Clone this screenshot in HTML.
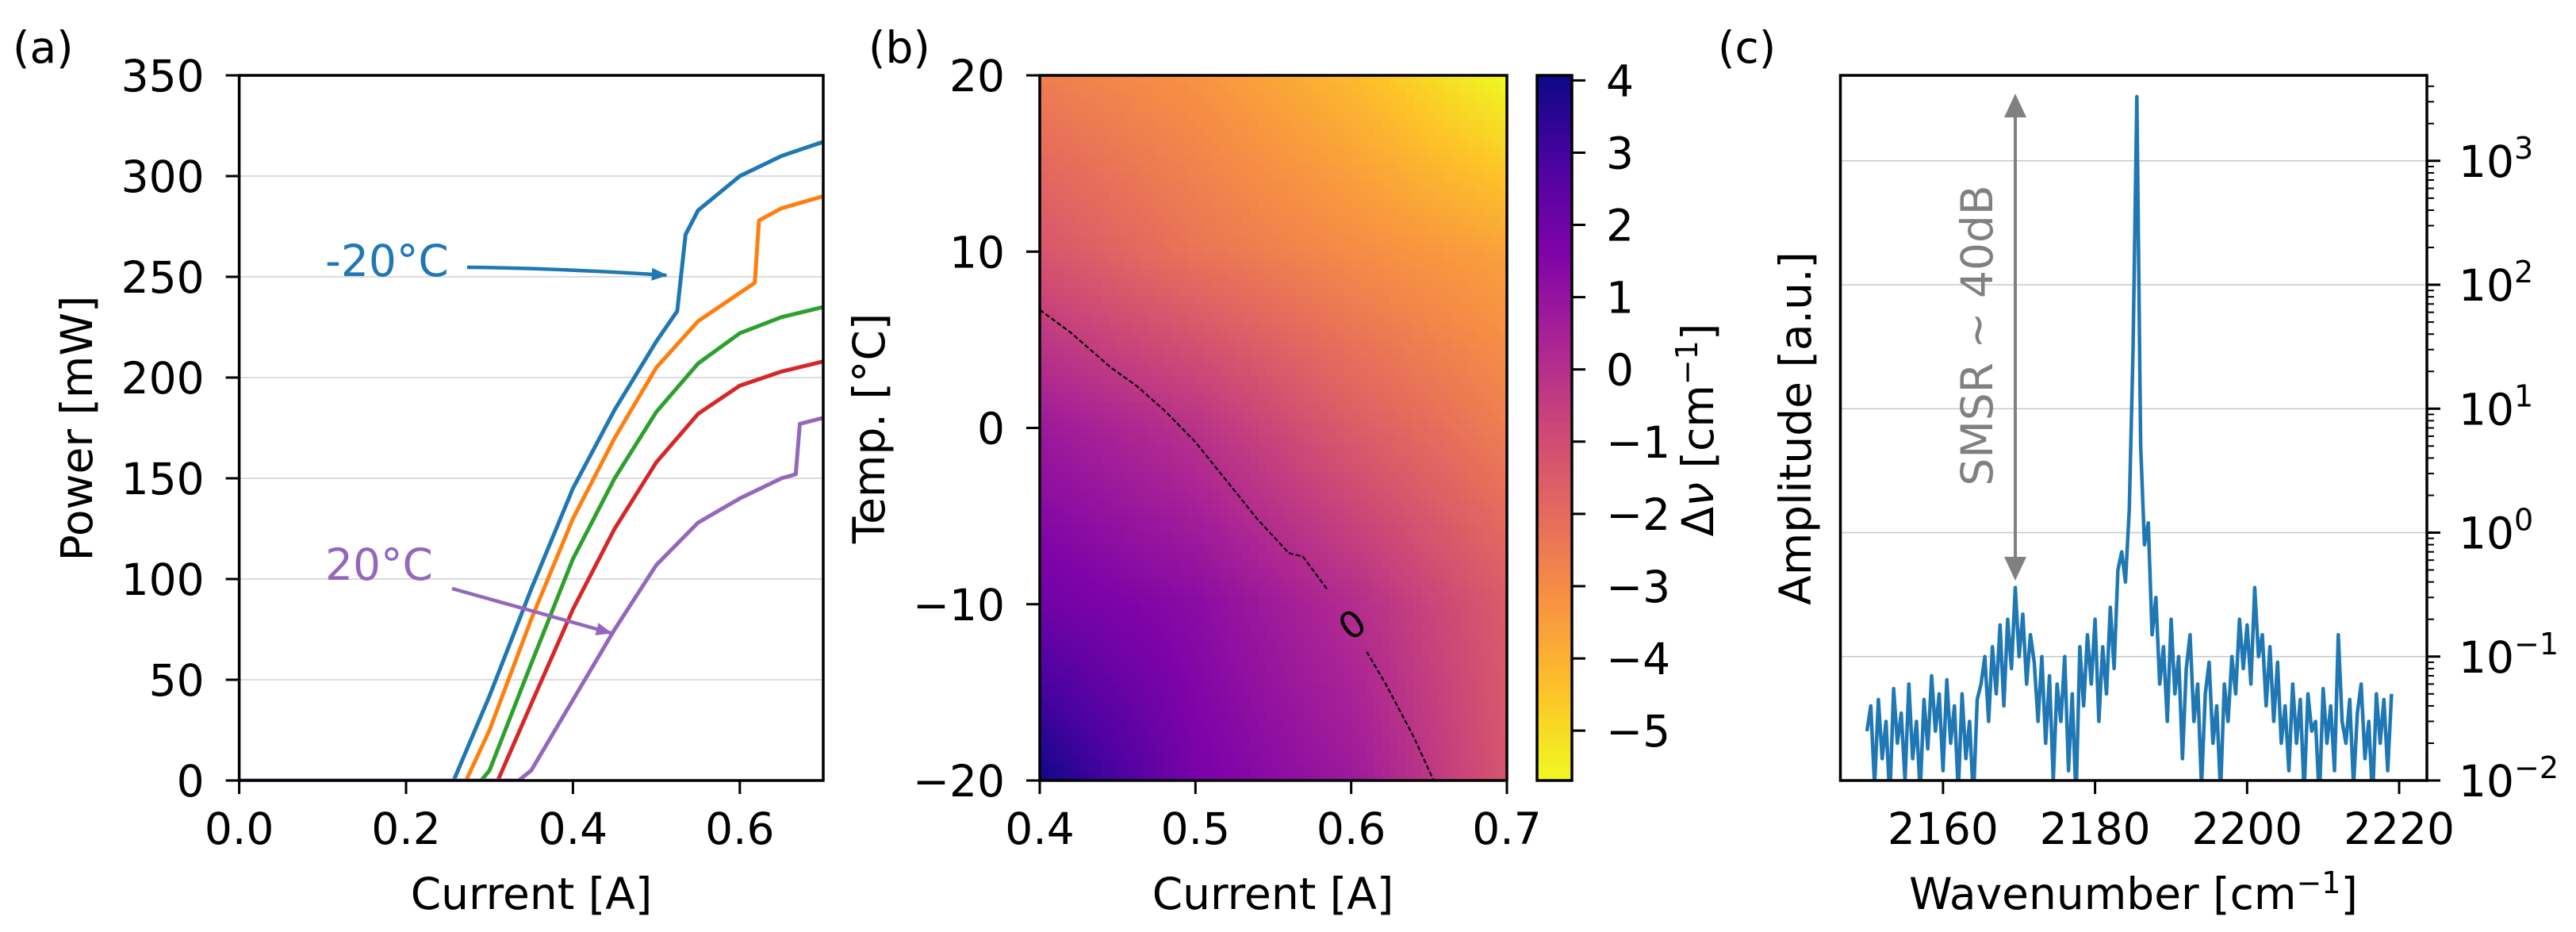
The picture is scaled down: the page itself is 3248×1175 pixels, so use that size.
<!DOCTYPE html>
<html><head><meta charset="utf-8"><style>
html,body{margin:0;padding:0;background:#fff;}
svg{display:block;font-family:"DejaVu Sans","Liberation Sans",sans-serif;}
</style></head><body>
<svg id="fig" width="3248" height="1175" viewBox="0 0 3248 1175" xmlns="http://www.w3.org/2000/svg">
<defs>
<clipPath id="clipA"><rect x="301.6" y="95" width="736.4" height="889"/></clipPath>
<clipPath id="clipC"><rect x="2320.5" y="95" width="739.5" height="889"/></clipPath>
<marker id="arrB" viewBox="0 0 10 10" refX="9" refY="5" markerWidth="4.5" markerHeight="4.5" orient="auto"><path d="M0,1 L10,5 L0,9 Z" fill="#1f77b4"/></marker>
<marker id="arrP" viewBox="0 0 10 10" refX="9" refY="5" markerWidth="4.5" markerHeight="4.5" orient="auto"><path d="M0,1 L10,5 L0,9 Z" fill="#9467bd"/></marker>
</defs>
<g id="pa"></g>
<g id="pb"></g>
<g id="pc"></g>
</svg>
<script>
// ---------- Panel (a) data ----------
const aCurrent_blue   = [0, 0.257, 0.3, 0.35, 0.4, 0.45, 0.5, 0.525, 0.535, 0.55, 0.6, 0.65, 0.7];
const aPower_blue     = [0, 0, 42, 95, 145, 184, 218, 233, 271, 283, 300, 310, 317];
const aCurrent_orange = [0, 0.272, 0.3, 0.35, 0.4, 0.45, 0.5, 0.55, 0.6, 0.618, 0.623, 0.65, 0.7];
const aPower_orange   = [0, 0, 25, 80, 130, 170, 205, 228, 242, 247, 278, 284, 290];
const aCurrent_green  = [0, 0.29, 0.3, 0.35, 0.4, 0.45, 0.5, 0.55, 0.6, 0.65, 0.7];
const aPower_green    = [0, 0, 5, 58, 110, 150, 183, 207, 222, 230, 235];
const aCurrent_red    = [0, 0.31, 0.35, 0.4, 0.45, 0.5, 0.55, 0.6, 0.65, 0.7];
const aPower_red      = [0, 0, 38, 85, 125, 158, 182, 196, 203, 208];
const aCurrent_purple = [0, 0.335, 0.35, 0.4, 0.45, 0.5, 0.55, 0.6, 0.65, 0.667, 0.672, 0.7];
const aPower_purple   = [0, 0, 5, 40, 75, 107, 128, 140, 150, 152, 177, 180];
const aXTicks = [0, 0.2, 0.4, 0.6];
const aXTickLabels = ["0.0", "0.2", "0.4", "0.6"];
const aYTicks = [0, 50, 100, 150, 200, 250, 300, 350];

// ---------- Panel (b) data ----------
const bCurrentGrid = [0.4, 0.5, 0.6, 0.7];
const bTempGrid = [-20, -10, 0, 10, 20];
const bShift_Tm20 = [4.0, 1.8, 0.8, -1.3];
const bShift_Tm10 = [2.0, 1.3, 0.1, -1.5];
const bShift_T0   = [0.8, -0.1, -1.5, -2.6];
const bShift_T10  = [-1.3, -2.3, -3.0, -3.6];
const bShift_T20  = [-2.6, -3.2, -4.2, -5.7];
const bContourA_I = [0.4, 0.42, 0.446, 0.462, 0.48, 0.5, 0.52, 0.54, 0.56, 0.569, 0.585];
const bContourA_T = [6.7, 5.4, 3.4, 2.4, 1.0, -0.8, -3.0, -5.2, -7.1, -7.3, -9.2];
const bContourB_I = [0.61, 0.622, 0.64, 0.653];
const bContourB_T = [-12.7, -14.5, -17.5, -20];
const bXTicks = [0.4, 0.5, 0.6, 0.7];
const bYTicks = [-20, -10, 0, 10, 20];
const bCbarTicks = [4, 3, 2, 1, 0, -1, -2, -3, -4, -5];

// ---------- Panel (c) data ----------
const cStart = 2150, cStep = 0.5;
const cAmplitude = [
0.025,0.04,0.009,0.045,0.015,0.03,0.007,0.055,0.02,0.035,
0.01,0.06,0.015,0.03,0.008,0.045,0.018,0.07,0.025,0.05,
0.012,0.065,0.02,0.04,0.008,0.05,0.015,0.03,0.007,0.045,
0.06,0.1,0.03,0.12,0.05,0.18,0.04,0.2,0.08,0.36,
0.1,0.22,0.06,0.15,0.09,0.03,0.1,0.02,0.07,0.01,
0.06,0.03,0.1,0.012,0.05,0.007,0.12,0.04,0.15,0.06,
0.2,0.03,0.12,0.05,0.25,0.08,0.5,0.7,0.4,1.5,
30,3300,5,0.8,1.2,0.15,0.3,
0.06,0.12,0.03,0.2,0.05,0.1,0.015,0.08,0.15,0.03,0.06,0.009,0.05,0.09,0.02,0.04,0.008,0.06,
0.03,0.1,0.05,0.2,0.08,0.18,0.06,0.36,0.1,0.15,0.04,0.12,0.03,0.09,0.02,
0.04,0.012,0.06,0.02,0.045,0.008,0.05,0.025,0.03,0.007,0.055,0.02,0.04,0.012,0.15,0.03,0.02,0.045,0.009,0.035,0.06,0.015,0.03,0.007,0.05,0.02,0.045,0.012,0.05];
const cXTicks = [2160, 2180, 2200, 2220];
const cYDecades = [-2, -1, 0, 1, 2, 3];

const NS = "http://www.w3.org/2000/svg";
function el(parent, tag, attrs, text) {
  const e = document.createElementNS(NS, tag);
  for (const k in attrs) e.setAttribute(k, attrs[k]);
  if (text !== undefined) e.textContent = text;
  parent.appendChild(e);
  return e;
}
const FS = 55;

// ================= Panel A =================
const A = {x0: 301.6, x1: 1038, yb: 984, yt: 95};
const ax = v => A.x0 + v / 0.7 * (A.x1 - A.x0);
const ay = v => A.yb - v / 350 * (A.yb - A.yt);
const pa = document.getElementById('pa');
aYTicks.forEach(t => {
  if (t > 0 && t < 350) {
    const g = el(pa, 'line', {x1: A.x0, x2: A.x1, y1: ay(t), y2: ay(t), stroke: '#b0b0b0', 'stroke-width': 1.5, 'stroke-opacity': 0.6});
    
    
  }
});
const seriesA = [
  [aCurrent_blue, aPower_blue, '#1f77b4', 'curve-minus20c'],
  [aCurrent_orange, aPower_orange, '#ff7f0e', 'curve-minus10c'],
  [aCurrent_green, aPower_green, '#2ca02c', 'curve-0c'],
  [aCurrent_red, aPower_red, '#d62728', 'curve-10c'],
  [aCurrent_purple, aPower_purple, '#9467bd', 'curve-20c']];
const ga = el(pa, 'g', {'clip-path': 'url(#clipA)'});
seriesA.forEach(s => {
  const d = s[0].map((x, i) => (i ? 'L' : 'M') + ax(x).toFixed(1) + ',' + ay(s[1][i]).toFixed(1)).join(' ');
  const p = el(ga, 'path', {d: d, fill: 'none', stroke: s[2], 'stroke-width': 5, 'stroke-linejoin': 'round'});
  
  
});
let f = el(pa, 'rect', {x: A.x0, y: A.yt, width: A.x1 - A.x0, height: A.yb - A.yt, fill: 'none', stroke: '#000', 'stroke-width': 3.5});
 
aXTicks.forEach((t, i) => {
  el(pa, 'line', {x1: ax(t), x2: ax(t), y1: A.yb, y2: A.yb + 17, stroke: '#000', 'stroke-width': 3});
  const tx = el(pa, 'text', {x: ax(t), y: 1064, 'font-size': FS, 'text-anchor': 'middle'}, aXTickLabels[i]);
   
});
aYTicks.forEach(t => {
  el(pa, 'line', {x1: A.x0 - 17, x2: A.x0, y1: ay(t), y2: ay(t), stroke: '#000', 'stroke-width': 3});
  const tx = el(pa, 'text', {x: A.x0 - 44, y: ay(t) + 20, 'font-size': FS, 'text-anchor': 'end'}, String(t));
   
});
</script>
<script>
(function(){
const pa = document.getElementById('pa');
function t(attrs, s, name){const e=document.createElementNS("http://www.w3.org/2000/svg",'text');for(const k in attrs)e.setAttribute(k,attrs[k]);e.textContent=s;


pa.appendChild(e);return e;}
t({x:16,y:79,'font-size':55},'(a)','panel-label-a');
t({x:670,y:1146,'font-size':55,'text-anchor':'middle'},'Current [A]','x-axis-title-a');
t({x:116,y:540,'font-size':55,'text-anchor':'middle',transform:'rotate(-90 116 540)'},'Power [mW]','y-axis-title-a');
t({x:410,y:348,'font-size':55,fill:'#1f77b4'},'-20°C','annotation-minus20c');
t({x:410,y:731,'font-size':55,fill:'#9467bd'},'20°C','annotation-20c');
const NS="http://www.w3.org/2000/svg";
const a1=document.createElementNS(NS,'path');a1.setAttribute('d','M589,337 Q700,338 840,347');a1.setAttribute('fill','none');a1.setAttribute('stroke','#1f77b4');a1.setAttribute('stroke-width',4.5);a1.setAttribute('marker-end','url(#arrB)');


pa.appendChild(a1);
const a2=document.createElementNS(NS,'path');a2.setAttribute('d','M570,742 L770,798');a2.setAttribute('fill','none');a2.setAttribute('stroke','#9467bd');a2.setAttribute('stroke-width',4.5);a2.setAttribute('marker-end','url(#arrP)');


pa.appendChild(a2);
})();
</script>
<script>
(function(){
const NS="http://www.w3.org/2000/svg";
function el(parent, tag, attrs, text){const e=document.createElementNS(NS,tag);for(const k in attrs)e.setAttribute(k,attrs[k]);if(text!==undefined)e.textContent=text;parent.appendChild(e);return e;}
const B={x0:1311,x1:1900,yb:984,yt:95};
const bx=v=>B.x0+(v-0.4)/0.3*(B.x1-B.x0);
const by=v=>B.yb-(v+20)/40*(B.yb-B.yt);
const VMAX=4.07, VMIN=-5.69;
const stops=[[13,8,135],[76,2,161],[126,3,168],[169,35,149],[204,71,120],[229,107,93],[248,148,65],[253,195,40],[240,249,33]];
function plasma(t){t=Math.max(0,Math.min(1,t));const p=t*8,i=Math.min(7,Math.floor(p)),f=p-i;const a=stops[i],b=stops[i+1];
return 'rgb('+[0,1,2].map(k=>Math.round(a[k]+(b[k]-a[k])*f)).join(',')+')';}
const colorOf=v=>plasma((VMAX-v)/(VMAX-VMIN));
const rows=[bShift_Tm20,bShift_Tm10,bShift_T0,bShift_T10,bShift_T20];
function val(I,T){
  let i=0;while(i<bCurrentGrid.length-2&&I>bCurrentGrid[i+1])i++;
  let j=0;while(j<bTempGrid.length-2&&T>bTempGrid[j+1])j++;
  const fx=(I-bCurrentGrid[i])/(bCurrentGrid[i+1]-bCurrentGrid[i]);
  const fy=(T-bTempGrid[j])/(bTempGrid[j+1]-bTempGrid[j]);
  const a=rows[j][i],b=rows[j][i+1],c=rows[j+1][i],d=rows[j+1][i+1];
  return a*(1-fx)*(1-fy)+b*fx*(1-fy)+c*(1-fx)*fy+d*fx*fy;
}
const pb=document.getElementById('pb');
const hm=el(pb,'g',{});


const NX=60,NY=80;
const cw=(B.x1-B.x0)/NX,ch=(B.yb-B.yt)/NY;
for(let i=0;i<NX;i++)for(let j=0;j<NY;j++){
  const I=0.4+(i+0.5)/NX*0.3, T=-20+(j+0.5)/NY*40;
  const r=el(hm,'rect',{x:(B.x0+i*cw).toFixed(2),y:(B.yb-(j+1)*ch).toFixed(2),width:(cw+0.6).toFixed(2),height:(ch+0.6).toFixed(2),fill:colorOf(val(I,T))});
  
  
}
[[bContourA_I,bContourA_T],[bContourB_I,bContourB_T]].forEach(c=>{
  const d=c[0].map((x,i)=>(i?'L':'M')+bx(x).toFixed(1)+','+by(c[1][i]).toFixed(1)).join(' ');
  const p=el(pb,'path',{d:d,fill:'none',stroke:'#000','stroke-width':2.2,'stroke-dasharray':'6,3'});
  
  
});
const cl=el(pb,'text',{x:bx(0.601),y:by(-11.2)+15,'font-size':46,'text-anchor':'middle',transform:'rotate(-35 '+bx(0.601)+' '+by(-11.2)+')'},'0');


const fr=el(pb,'rect',{x:B.x0,y:B.yt,width:B.x1-B.x0,height:B.yb-B.yt,fill:'none',stroke:'#000','stroke-width':3.5});


bXTicks.forEach(t=>{el(pb,'line',{x1:bx(t),x2:bx(t),y1:B.yb,y2:B.yb+17,stroke:'#000','stroke-width':3});
  const e=el(pb,'text',{x:bx(t),y:1064,'font-size':55,'text-anchor':'middle'},t.toFixed(1));
  
  
});
bYTicks.forEach(t=>{el(pb,'line',{x1:B.x0-17,x2:B.x0,y1:by(t),y2:by(t),stroke:'#000','stroke-width':3});
  const e=el(pb,'text',{x:B.x0-44,y:by(t)+20,'font-size':55,'text-anchor':'end'},t<0?'\u2212'+(-t):String(t));
  
  
});
const C={x0:1938,x1:1982};
const cy=v=>B.yt+(VMAX-v)/(VMAX-VMIN)*(B.yb-B.yt);
const cb=el(pb,'g',{});


const NC=120;
for(let k=0;k<NC;k++){const v=VMAX-(k+0.5)/NC*(VMAX-VMIN);
  el(cb,'rect',{x:C.x0,y:(B.yt+k*(B.yb-B.yt)/NC).toFixed(2),width:C.x1-C.x0,height:((B.yb-B.yt)/NC+0.6).toFixed(2),fill:colorOf(v)});}
el(pb,'rect',{x:C.x0,y:B.yt,width:C.x1-C.x0,height:B.yb-B.yt,fill:'none',stroke:'#000','stroke-width':3.5});
bCbarTicks.forEach(t=>{el(pb,'line',{x1:C.x1,x2:C.x1+17,y1:cy(t),y2:cy(t),stroke:'#000','stroke-width':3});
  const e=el(pb,'text',{x:2025,y:cy(t)+20,'font-size':55},t<0?'\u2212'+(-t):String(t));
  
  
});
const lab=[['(b)',{x:1095,y:79,'font-size':55},'panel-label-b'],
 ['Current [A]',{x:1605,y:1146,'font-size':55,'text-anchor':'middle'},'x-axis-title-b'],
 ['Temp. [°C]',{x:1115,y:540,'font-size':55,'text-anchor':'middle',transform:'rotate(-90 1115 540)'},'y-axis-title-b']];
lab.forEach(l=>{const e=el(pb,'text',l[1],l[0]);
  
  
});
const cbl=el(pb,'text',{x:2160,y:542,'font-size':55,'text-anchor':'middle',transform:'rotate(-90 2160 542)'});


cbl.innerHTML='Δ<tspan font-style="italic">ν</tspan> [cm<tspan dy="-20" font-size="38">−1</tspan><tspan dy="20">]</tspan>';
})();
</script>
<script>
(function(){
const NS="http://www.w3.org/2000/svg";
function el(parent, tag, attrs, text){const e=document.createElementNS(NS,tag);for(const k in attrs)e.setAttribute(k,attrs[k]);if(text!==undefined)e.textContent=text;parent.appendChild(e);return e;}
const P={x0:2320.5,x1:3060,yb:984,yt:95};
const XMIN=2146.5,XMAX=2223.65,LMIN=-2,LMAX=3.69;
const cx=v=>P.x0+(v-XMIN)/(XMAX-XMIN)*(P.x1-P.x0);
const cyl=l=>P.yb-(l-LMIN)/(LMAX-LMIN)*(P.yb-P.yt);
const cy=v=>cyl(Math.log10(v));
const pc=document.getElementById('pc');
cYDecades.forEach(d=>{if(d>LMIN){const g=el(pc,'line',{x1:P.x0,x2:P.x1,y1:cyl(d),y2:cyl(d),stroke:'#b0b0b0','stroke-width':1.5,'stroke-opacity':0.7});
  
  
}});
const g=el(pc,'g',{'clip-path':'url(#clipC)'});
const d=cAmplitude.map((v,i)=>(i?'L':'M')+cx(cStart+i*cStep).toFixed(1)+','+cy(v).toFixed(1)).join(' ');
const sp=el(g,'path',{d:d,fill:'none',stroke:'#1f77b4','stroke-width':4.5,'stroke-linejoin':'round'});


const ar=el(pc,'g',{});


el(ar,'line',{x1:2541,x2:2541,y1:145,y2:712,stroke:'#808080','stroke-width':4});
el(ar,'path',{d:'M2541,118 L2527,148 L2555,148 Z',fill:'#808080'});
el(ar,'path',{d:'M2541,732 L2527,702 L2555,702 Z',fill:'#808080'});
const st=el(pc,'text',{x:2512,y:423,'font-size':55,fill:'#808080','text-anchor':'middle',transform:'rotate(-90 2512 423)'},'SMSR ~ 40dB');


el(pc,'rect',{x:P.x0,y:P.yt,width:P.x1-P.x0,height:P.yb-P.yt,fill:'none',stroke:'#000','stroke-width':3.5});
cXTicks.forEach(t=>{el(pc,'line',{x1:cx(t),x2:cx(t),y1:P.yb,y2:P.yb+17,stroke:'#000','stroke-width':3});
  const e=el(pc,'text',{x:cx(t),y:1064,'font-size':55,'text-anchor':'middle'},String(t));
  
  
});
for(let dec=-2;dec<=3;dec++){
  el(pc,'line',{x1:P.x1,x2:P.x1+17,y1:cyl(dec),y2:cyl(dec),stroke:'#000','stroke-width':3});
  for(let m=2;m<=9;m++){const l=dec+Math.log10(m);if(l<LMAX)el(pc,'line',{x1:P.x1,x2:P.x1+9,y1:cyl(l),y2:cyl(l),stroke:'#000','stroke-width':2});}
  const e=el(pc,'text',{x:3100,y:cyl(dec)+20,'font-size':55});
  
  
  e.innerHTML='10<tspan dy="-23" font-size="38">'+(dec<0?'\u2212'+(-dec):dec)+'</tspan>';
}
const l1=el(pc,'text',{x:2166,y:79,'font-size':55},'(c)');


const xl=el(pc,'text',{x:2690,y:1146,'font-size':55,'text-anchor':'middle'});


xl.innerHTML='Wavenumber [cm<tspan dy="-20" font-size="38">−1</tspan><tspan dy="20">]</tspan>';
const yl=el(pc,'text',{x:2283,y:540,'font-size':55,'text-anchor':'middle',transform:'rotate(-90 2283 540)'},'Amplitude [a.u.]');


})();
</script>
</body></html>
